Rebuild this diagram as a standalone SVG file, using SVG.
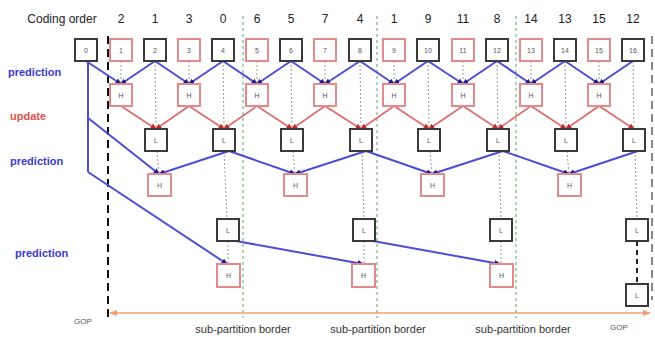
<svg xmlns="http://www.w3.org/2000/svg" width="655" height="337" viewBox="0 0 655 337">
  <style>
    .bk rect { fill: #fff; stroke: #3a3a3a; stroke-width: 2; }
    .rd rect { fill: #fff; stroke: #e58a8a; stroke-width: 2; }
    .bl { font-family: "Liberation Sans", Arial, sans-serif; font-size: 7px; fill: #555; text-anchor: middle; }
    .co { font-family: "Liberation Sans", Arial, sans-serif; font-size: 12px; fill: #222; text-anchor: middle; }
    .side { font-family: "Liberation Sans", Arial, sans-serif; font-size: 11px; font-weight: bold; }
    .note { font-family: "Liberation Sans", Arial, sans-serif; font-size: 11px; fill: #333; text-anchor: middle; }
    .gop { font-family: "Liberation Sans", Arial, sans-serif; font-size: 8px; fill: #555; }
    .pred line, .pred polyline { stroke: #4d4dd6; stroke-width: 2; fill: none; marker-end: url(#ab); }
    .upd line { stroke: #e06a6a; stroke-width: 1.6; marker-end: url(#ar); }
    .col line { stroke: #9a9a9a; stroke-width: 1; stroke-dasharray: 2 2; }
    .sub { stroke: #5aa86a; stroke-width: 1; stroke-dasharray: 3 3; }
  </style>
  <defs>
    <marker id="ab" viewBox="0 0 10 10" refX="9" refY="5" markerWidth="6" markerHeight="6" markerUnits="userSpaceOnUse" orient="auto">
      <path d="M0,0 L10,5 L0,10 z" fill="#1e1e8c"/>
    </marker>
    <marker id="ar" viewBox="0 0 10 10" refX="9" refY="5" markerWidth="6" markerHeight="6" markerUnits="userSpaceOnUse" orient="auto">
      <path d="M0,0 L10,5 L0,10 z" fill="#c02a2a"/>
    </marker>
    <marker id="ao" viewBox="0 0 10 10" refX="9" refY="5" markerWidth="8" markerHeight="8" markerUnits="userSpaceOnUse" orient="auto-start-reverse">
      <path d="M0,1 L10,5 L0,9 z" fill="#f0a070"/>
    </marker>
  </defs>

  <!-- headings and level labels -->
  <text class="co" x="62" y="23">Coding order</text>
  <g class="co">
    <text x="121" y="23">2</text><text x="155" y="23">1</text><text x="189" y="23">3</text><text x="223" y="23">0</text>
    <text x="257" y="23">6</text><text x="291" y="23">5</text><text x="325" y="23">7</text><text x="360" y="23">4</text>
    <text x="394" y="23">1</text><text x="428" y="23">9</text><text x="463" y="23">11</text><text x="497" y="23">8</text>
    <text x="531" y="23">14</text><text x="565" y="23">13</text><text x="599" y="23">15</text><text x="633" y="23">12</text>
  </g>
  <text class="side" x="8" y="76" fill="#3a3ad8">prediction</text>
  <text class="side" x="10" y="120" fill="#e05050">update</text>
  <text class="side" x="10" y="165" fill="#3a3ad8">prediction</text>
  <text class="side" x="15" y="257" fill="#3a3ad8">prediction</text>

  <!-- GOP and sub-partition borders -->
  <line x1="108" y1="36" x2="108" y2="320" stroke="#111" stroke-width="2" stroke-dasharray="8 5"/>
  <line x1="652" y1="36" x2="652" y2="300" stroke="#888" stroke-width="2" stroke-dasharray="8 5"/>
  <line class="sub" x1="243" y1="16" x2="243" y2="318"/>
  <line class="sub" x1="377" y1="16" x2="377" y2="318"/>
  <line class="sub" x1="516" y1="16" x2="516" y2="318"/>
  <line x1="110" y1="313" x2="650" y2="313" stroke="#f0a070" stroke-width="1.6" marker-start="url(#ao)" marker-end="url(#ao)"/>
  <text class="gop" x="74" y="324">GOP</text>
  <text class="gop" x="610" y="330">GOP</text>
  <text class="note" x="243" y="333">sub-partition border</text>
  <text class="note" x="378" y="333">sub-partition border</text>
  <text class="note" x="523" y="333">sub-partition border</text>

  <!-- connectors -->
  <g id="connectors">
    <g class="col">
      <line x1="121" y1="61" x2="121" y2="84"/><line x1="189" y1="61" x2="189" y2="84"/>
      <line x1="257" y1="61" x2="257" y2="84"/><line x1="325" y1="61" x2="325" y2="84"/>
      <line x1="394" y1="61" x2="394" y2="84"/><line x1="463" y1="61" x2="463" y2="84"/>
      <line x1="531" y1="61" x2="531" y2="84"/><line x1="599" y1="61" x2="599" y2="84"/>
      <line x1="155" y1="61" x2="156" y2="129"/><line x1="157" y1="151" x2="159" y2="174"/>
      <line x1="291" y1="61" x2="292" y2="129"/><line x1="293" y1="151" x2="295" y2="174"/>
      <line x1="428" y1="61" x2="429" y2="129"/><line x1="430" y1="151" x2="432" y2="174"/>
      <line x1="565" y1="61" x2="566" y2="129"/><line x1="567" y1="151" x2="569" y2="174"/>
      <line x1="223" y1="61" x2="224" y2="129"/><line x1="224" y1="151" x2="227" y2="219"/><line x1="228" y1="241" x2="228" y2="264"/>
      <line x1="360" y1="61" x2="361" y2="129"/><line x1="362" y1="151" x2="364" y2="219"/><line x1="364" y1="241" x2="364" y2="264"/>
      <line x1="497" y1="61" x2="498" y2="129"/><line x1="499" y1="151" x2="501" y2="219"/><line x1="501" y1="241" x2="501" y2="264"/>
      <line x1="633" y1="61" x2="634" y2="129"/><line x1="635" y1="151" x2="637" y2="219"/>
    </g>
    <line x1="637" y1="241" x2="637" y2="284" stroke="#222" stroke-width="2" stroke-dasharray="5 4"/>

    <!-- first prediction step -->
    <g class="pred">
      <line x1="86" y1="61" x2="121" y2="84"/><line x1="155" y1="61" x2="121" y2="84"/>
      <line x1="155" y1="61" x2="189" y2="84"/><line x1="223" y1="61" x2="189" y2="84"/>
      <line x1="223" y1="61" x2="257" y2="84"/><line x1="291" y1="61" x2="257" y2="84"/>
      <line x1="291" y1="61" x2="325" y2="84"/><line x1="360" y1="61" x2="325" y2="84"/>
      <line x1="360" y1="61" x2="394" y2="84"/><line x1="428" y1="61" x2="394" y2="84"/>
      <line x1="428" y1="61" x2="463" y2="84"/><line x1="497" y1="61" x2="463" y2="84"/>
      <line x1="497" y1="61" x2="531" y2="84"/><line x1="565" y1="61" x2="531" y2="84"/>
      <line x1="565" y1="61" x2="599" y2="84"/><line x1="633" y1="61" x2="599" y2="84"/>
    </g>
    <!-- update step -->
    <g class="upd">
      <line x1="121" y1="106" x2="156" y2="129"/><line x1="189" y1="106" x2="156" y2="129"/>
      <line x1="189" y1="106" x2="224" y2="129"/><line x1="257" y1="106" x2="224" y2="129"/>
      <line x1="257" y1="106" x2="292" y2="129"/><line x1="325" y1="106" x2="292" y2="129"/>
      <line x1="325" y1="106" x2="361" y2="129"/><line x1="394" y1="106" x2="361" y2="129"/>
      <line x1="394" y1="106" x2="429" y2="129"/><line x1="463" y1="106" x2="429" y2="129"/>
      <line x1="463" y1="106" x2="498" y2="129"/><line x1="531" y1="106" x2="498" y2="129"/>
      <line x1="531" y1="106" x2="566" y2="129"/><line x1="599" y1="106" x2="566" y2="129"/>
      <line x1="599" y1="106" x2="634" y2="129"/>
    </g>
    <!-- second and third prediction steps -->
    <g class="pred">
      <line x1="88" y1="61" x2="88" y2="172" style="marker-end:none"/>
      <line x1="88" y1="118" x2="159" y2="174"/>
      <line x1="229" y1="151" x2="159" y2="174"/>
      <line x1="229" y1="151" x2="295" y2="174"/><line x1="366" y1="151" x2="295" y2="174"/>
      <line x1="366" y1="151" x2="432" y2="174"/><line x1="503" y1="151" x2="432" y2="174"/>
      <line x1="503" y1="151" x2="569" y2="174"/><line x1="638" y1="151" x2="569" y2="174"/>
      <line x1="88" y1="172" x2="227" y2="264"/>
      <line x1="236" y1="241" x2="363" y2="264"/>
      <line x1="373" y1="241" x2="500" y2="264"/>
    </g>
  </g>

  <!-- top row frames -->
  <g id="f0" class="bk"><rect x="75" y="39" width="22" height="22"/><text class="bl" x="86" y="52.5">0</text></g>
  <g id="f1" class="rd"><rect x="110" y="39" width="22" height="22"/><text class="bl" x="121" y="52.5">1</text></g>
  <g id="f2" class="bk"><rect x="144" y="39" width="22" height="22"/><text class="bl" x="155" y="52.5">2</text></g>
  <g id="f3" class="rd"><rect x="178" y="39" width="22" height="22"/><text class="bl" x="189" y="52.5">3</text></g>
  <g id="f4" class="bk"><rect x="212" y="39" width="22" height="22"/><text class="bl" x="223" y="52.5">4</text></g>
  <g id="f5" class="rd"><rect x="246" y="39" width="22" height="22"/><text class="bl" x="257" y="52.5">5</text></g>
  <g id="f6" class="bk"><rect x="280" y="39" width="22" height="22"/><text class="bl" x="291" y="52.5">6</text></g>
  <g id="f7" class="rd"><rect x="314" y="39" width="22" height="22"/><text class="bl" x="325" y="52.5">7</text></g>
  <g id="f8" class="bk"><rect x="349" y="39" width="22" height="22"/><text class="bl" x="360" y="52.5">8</text></g>
  <g id="f9" class="rd"><rect x="383" y="39" width="22" height="22"/><text class="bl" x="394" y="52.5">9</text></g>
  <g id="f10" class="bk"><rect x="417" y="39" width="22" height="22"/><text class="bl" x="428" y="52.5">10</text></g>
  <g id="f11" class="rd"><rect x="452" y="39" width="22" height="22"/><text class="bl" x="463" y="52.5">11</text></g>
  <g id="f12" class="bk"><rect x="486" y="39" width="22" height="22"/><text class="bl" x="497" y="52.5">12</text></g>
  <g id="f13" class="rd"><rect x="520" y="39" width="22" height="22"/><text class="bl" x="531" y="52.5">13</text></g>
  <g id="f14" class="bk"><rect x="554" y="39" width="22" height="22"/><text class="bl" x="565" y="52.5">14</text></g>
  <g id="f15" class="rd"><rect x="588" y="39" width="22" height="22"/><text class="bl" x="599" y="52.5">15</text></g>
  <g id="f16" class="bk"><rect x="622" y="39" width="22" height="22"/><text class="bl" x="633" y="52.5">16</text></g>

  <!-- level 1 high-pass -->
  <g id="h1a" class="rd"><rect x="110" y="84" width="22" height="22"/><text class="bl" x="121" y="97.5">H</text></g>
  <g id="h1b" class="rd"><rect x="178" y="84" width="22" height="22"/><text class="bl" x="189" y="97.5">H</text></g>
  <g id="h1c" class="rd"><rect x="246" y="84" width="22" height="22"/><text class="bl" x="257" y="97.5">H</text></g>
  <g id="h1d" class="rd"><rect x="314" y="84" width="22" height="22"/><text class="bl" x="325" y="97.5">H</text></g>
  <g id="h1e" class="rd"><rect x="383" y="84" width="22" height="22"/><text class="bl" x="394" y="97.5">H</text></g>
  <g id="h1f" class="rd"><rect x="452" y="84" width="22" height="22"/><text class="bl" x="463" y="97.5">H</text></g>
  <g id="h1g" class="rd"><rect x="520" y="84" width="22" height="22"/><text class="bl" x="531" y="97.5">H</text></g>
  <g id="h1h" class="rd"><rect x="588" y="84" width="22" height="22"/><text class="bl" x="599" y="97.5">H</text></g>

  <!-- level 1 low-pass -->
  <g id="l1a" class="bk"><rect x="145" y="129" width="22" height="22"/><text class="bl" x="156" y="142.5">L</text></g>
  <g id="l1b" class="bk"><rect x="213" y="129" width="22" height="22"/><text class="bl" x="224" y="142.5">L</text></g>
  <g id="l1c" class="bk"><rect x="281" y="129" width="22" height="22"/><text class="bl" x="292" y="142.5">L</text></g>
  <g id="l1d" class="bk"><rect x="350" y="129" width="22" height="22"/><text class="bl" x="361" y="142.5">L</text></g>
  <g id="l1e" class="bk"><rect x="418" y="129" width="22" height="22"/><text class="bl" x="429" y="142.5">L</text></g>
  <g id="l1f" class="bk"><rect x="487" y="129" width="22" height="22"/><text class="bl" x="498" y="142.5">L</text></g>
  <g id="l1g" class="bk"><rect x="555" y="129" width="22" height="22"/><text class="bl" x="566" y="142.5">L</text></g>
  <g id="l1h" class="bk"><rect x="623" y="129" width="22" height="22"/><text class="bl" x="634" y="142.5">L</text></g>

  <!-- level 2 high-pass -->
  <g id="h2a" class="rd"><rect x="148" y="174" width="23" height="22"/><text class="bl" x="159.5" y="187.5">H</text></g>
  <g id="h2b" class="rd"><rect x="284" y="174" width="23" height="22"/><text class="bl" x="295.5" y="187.5">H</text></g>
  <g id="h2c" class="rd"><rect x="421" y="174" width="23" height="22"/><text class="bl" x="432.5" y="187.5">H</text></g>
  <g id="h2d" class="rd"><rect x="558" y="174" width="23" height="22"/><text class="bl" x="569.5" y="187.5">H</text></g>

  <!-- level 2 low-pass -->
  <g id="l2a" class="bk"><rect x="217" y="219" width="22" height="22"/><text class="bl" x="228" y="232.5">L</text></g>
  <g id="l2b" class="bk"><rect x="353" y="219" width="22" height="22"/><text class="bl" x="364" y="232.5">L</text></g>
  <g id="l2c" class="bk"><rect x="490" y="219" width="22" height="22"/><text class="bl" x="501" y="232.5">L</text></g>
  <g id="l2d" class="bk"><rect x="626" y="219" width="22" height="22"/><text class="bl" x="637" y="232.5">L</text></g>

  <!-- level 3 high-pass -->
  <g id="h3a" class="rd"><rect x="217" y="264" width="23" height="23"/><text class="bl" x="228.5" y="278">H</text></g>
  <g id="h3b" class="rd"><rect x="352" y="264" width="23" height="23"/><text class="bl" x="363.5" y="278">H</text></g>
  <g id="h3c" class="rd"><rect x="490" y="264" width="23" height="23"/><text class="bl" x="501.5" y="278">H</text></g>

  <!-- final low-pass -->
  <g id="l3" class="bk"><rect x="626" y="284" width="22" height="22"/><text class="bl" x="637" y="297.5">L</text></g>
</svg>
